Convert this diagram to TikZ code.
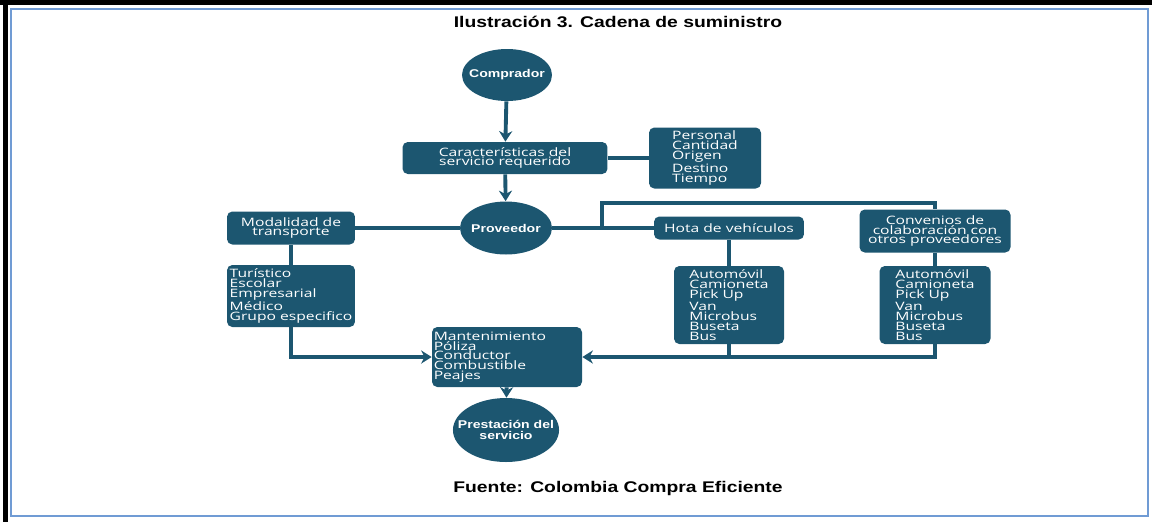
\documentclass[tikz,border=0pt]{standalone}
\usepackage{fontspec}
\usepackage{tikz}
\usetikzlibrary{arrows.meta,positioning,calc,shapes.geometric}
\newfontfamily\boxfont[FakeStretch=1.35]{Open Sans}
\newfontfamily\headfont[FakeStretch=1.25]{Liberation Sans}
\definecolor{teal}{RGB}{28,86,112}
\definecolor{framec}{RGB}{112,155,212}

\tikzset{
    circ/.style={ellipse, fill=teal, text=white, inner xsep=-6pt, inner ysep=0pt, font=\headfont\bfseries\fontsize{6.4}{6.6}\selectfont, align=center},
    box/.style={rectangle, rounded corners=3pt, fill=teal, text=white, inner sep=1pt, font=\boxfont\fontsize{6.6}{5.6}\selectfont, align=center},
    listbox/.style={box, align=left},
    link/.style={draw=teal, line width=2.2pt},
    arrow/.style={link, -{Stealth[length=6pt,width=7.5pt]}}
}

\begin{document}
\begin{tikzpicture}[x=0.02cm, y=-0.02cm]
    \useasboundingbox (0,0) rectangle (1152,522);
    \fill[black] (0,0) rectangle (1152,5);
    \fill[black] (3,0) rectangle (8,522);
    \draw[framec, line width=1.5pt] (11,9) rectangle (1148,516);

    \node[font=\headfont\bfseries\fontsize{8.8}{9}\selectfont] (title) at (618,22) {Ilustración 3. Cadena de suministro};
    \node[font=\headfont\bfseries\fontsize{8.8}{9}\selectfont] (source) at (618,488) {Fuente: Colombia Compra Eficiente};

    \node[circ, minimum width=1.8cm, minimum height=1.04cm] (comprador) at (507,75) {Comprador};
    \node[box, minimum width=4.1cm, minimum height=0.64cm] (caract) at (505,158) {Características del\\servicio requerido};
    \node[listbox, minimum width=2.24cm, minimum height=1.22cm] (personal) at (705,158) {Personal\\Cantidad\\Origen\\Destino\\Tiempo};
    \node[circ, minimum width=1.84cm, minimum height=1.06cm] (proveedor) at (506,228) {Proveedor};

    \node[box, minimum width=2.56cm, minimum height=0.66cm] (modalidad) at (291,228) {Modalidad de\\transporte};
    \node[listbox, minimum width=2.56cm, minimum height=1.24cm] (turistico) at (291,296) {Turístico\\Escolar\\Empresarial\\Médico\\Grupo especifico};

    \node[box, minimum width=3.0cm, minimum height=0.46cm] (flota) at (729,228) {Hota de vehículos};
    \node[box, minimum width=3.02cm, minimum height=0.86cm] (convenios) at (935,231) {Convenios de\\colaboración con\\otros proveedores};
    \node[listbox, minimum width=2.2cm, minimum height=1.56cm] (autos1) at (729,305) {Automóvil\\Camioneta\\Pick Up\\Van\\Microbus\\Buseta\\Bus};
    \node[listbox, minimum width=2.22cm, minimum height=1.56cm] (autos2) at (935,305) {Automóvil\\Camioneta\\Pick Up\\Van\\Microbus\\Buseta\\Bus};

    \node[listbox, text width=2.93cm, minimum height=1.2cm] (mant) at (507,357) {Mantenimiento\\Póliza\\Conductor\\Combustible\\Peajes};
    \node[circ, minimum width=2.06cm, minimum height=1.28cm] (prestacion) at (506,430) {Prestación del\\servicio};

    \coordinate (branch) at (602,228);
    \coordinate (branchtop) at (602,203);

    \draw[arrow] (comprador) to (caract);
    \draw[arrow] (caract) to (proveedor);
    \draw[link] (caract) to (personal);
    \draw[link] (modalidad) to (proveedor);
    \draw[link] (modalidad) to (turistico);
    \draw[arrow] (turistico.south) |- (mant.west);
    \draw[link] (proveedor) to (flota);
    \draw[link] (branch) -- (branchtop) -| (convenios.north);
    \draw[link] (flota) to (autos1);
    \draw[link] (convenios) to (autos2);
    \draw[link] (autos1.south) -- (autos1.south |- mant.east);
    \draw[arrow] (autos2.south) |- (mant.east);
    \draw[arrow] (mant) to (prestacion);

\end{tikzpicture}
\end{document}
